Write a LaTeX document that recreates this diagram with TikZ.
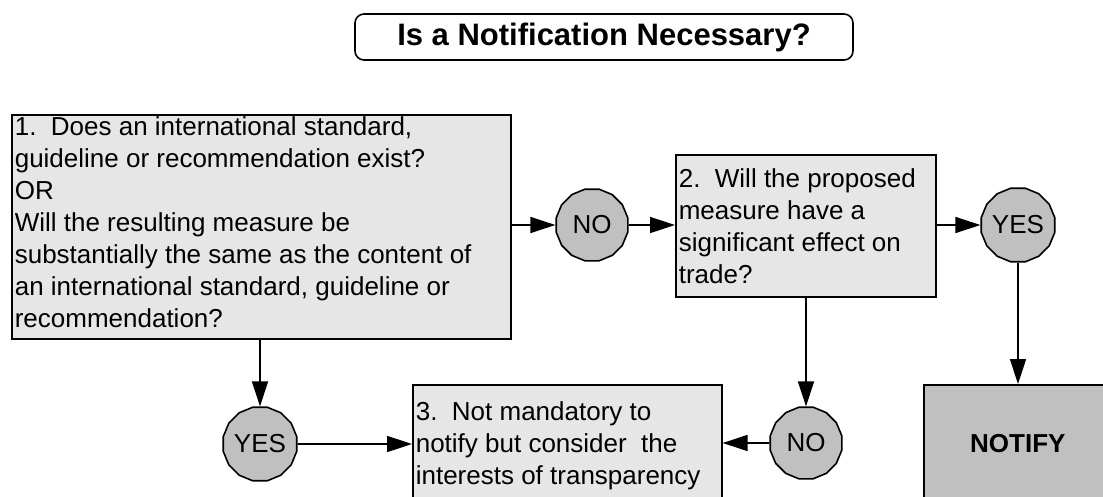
\documentclass[tikz,border=0pt]{standalone}
\usepackage{fontspec}
\setmainfont{Liberation Sans}
\usetikzlibrary{arrows.meta,shapes.geometric}
\definecolor{boxfill}{HTML}{E6E6E6}
\definecolor{darkfill}{HTML}{C0C0C0}
\begin{document}
\begin{tikzpicture}[x=1pt,y=-1pt,
  every node/.style={font=\fontsize{26}{32}\selectfont},
  qbox/.style={draw, line width=1.6pt, fill=boxfill, anchor=north west, inner xsep=3pt, inner ysep=2pt},
  ans/.style={draw, line width=1.6pt, fill=darkfill, regular polygon, regular polygon sides=16, minimum size=73pt, inner sep=0pt},
  arr/.style={line width=1.6pt, -{Triangle[length=25pt,width=16pt]}},
  titlebox/.style={draw, line width=1.6pt, fill=white, rounded corners=9pt, minimum width=498pt, minimum height=46pt, inner sep=0pt, font=\fontsize{31}{36}\selectfont\bfseries}
]
\clip (0,0) rectangle (1103,496);
\fill[white] (0,0) rectangle (1103,496);

\node[titlebox] (title) at (604,37) {Is a Notification Necessary?};

\node[qbox] (q1) at (11,114) {\parbox[c][220pt][t]{493pt}{1.\ \ Does an international standard,\\
guideline or recommendation exist?\\
OR\\
Will the resulting measure be\\
substantially the same as the content of\\
an international standard, guideline or\\
recommendation?}};

\node[qbox] (q2) at (675,154) {\parbox[c][138pt][c]{254pt}{2.\ \ Will the proposed\\
measure have a\\
significant effect on\\
trade?}};

\node[qbox] (q3) at (412,384) {\parbox[c][118pt][c]{303pt}{3.\ \ Not mandatory to\\
notify but consider\ \ the\\
interests of transparency}};

\node[draw, line width=1.6pt, fill=darkfill, anchor=north west, inner sep=0pt,
  minimum width=188pt, minimum height=118pt, font=\fontsize{26}{32}\selectfont\bfseries] (notify) at (923,384) {NOTIFY};

\node[ans] (no1) at (592,225) {NO};
\node[ans] (yes1) at (1018,225) {YES};
\node[ans] (yes2) at (260,444) {YES};
\node[ans] (no2) at (806,443) {NO};

\draw[arr] (q1.east |- no1) -- (no1);
\draw[arr] (no1) -- (q2.west |- no1);
\draw[arr] (q2.east |- yes1) -- (yes1);
\draw[arr] (yes1) -- (yes1 |- notify.north);
\draw[arr] (q1.south -| yes2) -- (yes2);
\draw[arr] (yes2) -- (yes2 -| q3.west);
\draw[arr] (q2.south -| no2) -- (no2);
\draw[arr] (no2) -- (no2 -| q3.east);
\end{tikzpicture}
\end{document}
